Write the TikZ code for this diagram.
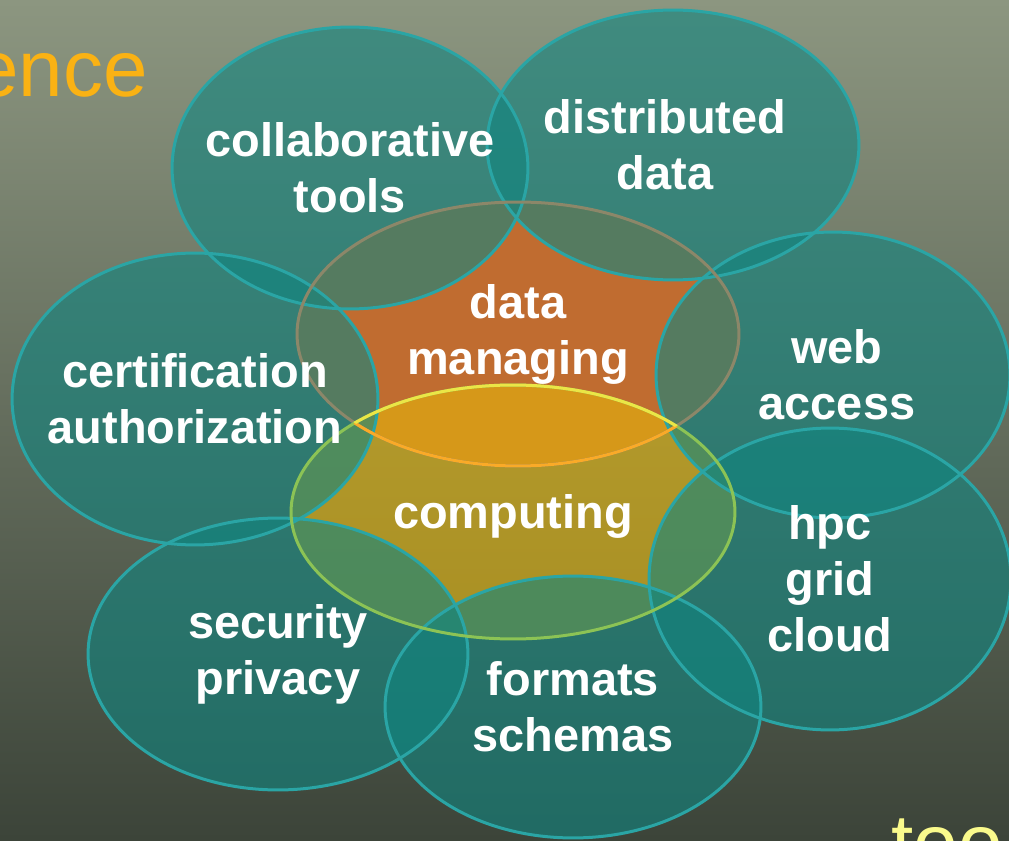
\documentclass[tikz,border=0pt]{standalone}
\usepackage{xcolor}
\usepackage{fontspec}
\setmainfont{Liberation Sans}
\usepackage{tikz}
\usetikzlibrary{shapes.geometric}

\definecolor{boardtop}{RGB}{140,150,128}
\definecolor{boardmid}{RGB}{110,120,100}
\definecolor{boardbot}{RGB}{60,68,57}
\definecolor{tealfill}{RGB}{15,133,128}
\definecolor{tealline}{RGB}{42,165,165}
\definecolor{dmorange}{RGB}{192,108,48}
\definecolor{dmtan}{RGB}{140,135,105}
\definecolor{cpyellow}{RGB}{230,182,10}
\definecolor{cpgreen}{RGB}{140,195,85}
\definecolor{lensup}{RGB}{235,230,70}
\definecolor{lenslow}{RGB}{250,170,40}
\definecolor{titleorange}{RGB}{250,178,20}
\definecolor{chalkyellow}{RGB}{250,250,140}

\tikzset{
	blob/.style={ellipse,inner sep=0pt,outer sep=0pt},
	bubble/.style={blob,fill=tealfill,fill opacity=0.6},
	rim/.style={blob,draw=tealline,line width=0.06cm},
	word/.style={text=white,align=center,inner sep=0pt,
		font=\fontsize{26.7pt}{31.9pt}\selectfont\bfseries},
	chalk/.style={inner sep=0pt,font=\fontsize{45.5pt}{50pt}\selectfont}
}

\begin{document}
\begin{tikzpicture}[x=0.02cm,y=0.02cm]
		\useasboundingbox (0,0) rectangle (1009,840);
		\clip (0,0) rectangle (1009,840);
		\shade[top color=boardtop,middle color=boardmid,bottom color=boardbot] (0,0) rectangle (1009,840);
		% the two core fields
		\node[blob,fill=dmorange,minimum width=8.84cm,minimum height=5.28cm] (dm) at (518,506) {};
		\node[blob,fill=cpyellow,fill opacity=0.6,minimum width=8.88cm,minimum height=5.08cm] (cp) at (513,328) {};
		% the ring of topics
		\foreach \n/\x/\y/\rx/\ry in {collab/350/672/178/141,distr/673/695/186/135,cert/195/441/183/146,web/833/465/177/143,hpc/830/261/181/151,secur/278/186/190/136,formt/573/133/188/131}
			\node[bubble,minimum width=0.04cm*\rx,minimum height=0.04cm*\ry] (\n) at (\x,\y) {};
		\foreach \n/\rx/\ry in {collab/178/141,distr/186/135,cert/183/146,web/177/143,hpc/181/151,secur/190/136,formt/188/131}
			\node[rim,minimum width=0.04cm*\rx,minimum height=0.04cm*\ry] (\n-rim) at (\n) {};
		\node[blob,draw=dmtan,line width=0.06cm,minimum width=8.84cm,minimum height=5.28cm] (dm-rim) at (dm) {};
		\node[blob,draw=cpgreen,line width=0.06cm,minimum width=8.88cm,minimum height=5.08cm] (cp-rim) at (cp) {};
		\begin{scope}
			\clip (cp.center) ellipse [x radius=222,y radius=127];
			\node[blob,draw=lenslow,line width=0.06cm,minimum width=8.84cm,minimum height=5.28cm] (dm-lens) at (dm) {};
		\end{scope}
		\begin{scope}
			\clip (dm.center) ellipse [x radius=221,y radius=132];
			\node[blob,draw=lensup,line width=0.06cm,minimum width=8.88cm,minimum height=5.08cm] (cp-lens) at (cp) {};
		\end{scope}
		% texts
		\node[word] (dm-txt) at (dm) {data\\managing};
		\node[word] (cp-txt) at ([yshift=-0.08cm]cp) {computing};
		\node[word] (collab-txt) at (collab) {collaborative\\tools};
		\node[word] (distr-txt) at ([xshift=-0.16cm]distr) {distributed\\data};
		\node[word] (cert-txt) at (cert) {certification\\authorization};
		\node[word] (web-txt) at ([xshift=0.08cm]web) {web\\access};
		\node[word] (hpc-txt) at (hpc) {hpc\\grid\\cloud};
		\node[word] (secur-txt) at (secur) {security\\privacy};
		\node[word] (formt-txt) at (formt) {formats\\schemas};
		\node[chalk,text=titleorange,anchor=base east] (title) at (148,743) {ence};
		\node[chalk,text=chalkyellow,anchor=base west] (tools) at (891,-30) {too};
\end{tikzpicture}
\end{document}
